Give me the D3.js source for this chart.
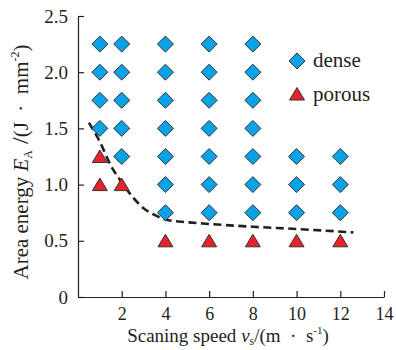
<!DOCTYPE html>
<html>
<head>
<meta charset="utf-8">
<script src="https://cdn.jsdelivr.net/npm/d3@7"></script>
<style>
  body { margin: 0; background: #fff; }
  text { font-family: "Liberation Serif", "DejaVu Serif", serif; fill: #231f20; }
</style>
</head>
<body>
<div id="chart"></div>
<script>
// dense samples (blue diamonds)
const denseSpeed  = [1,1,1,1, 2,2,2,2,2, 4,4,4,4,4,4,4, 6,6,6,6,6,6,6, 8,8,8,8,8,8,8, 10,10,10, 12,12,12];
const denseEnergy = [2.25,2.0,1.75,1.5, 2.25,2.0,1.75,1.5,1.25,
                     2.25,2.0,1.75,1.5,1.25,1.0,0.75,
                     2.25,2.0,1.75,1.5,1.25,1.0,0.75,
                     2.25,2.0,1.75,1.5,1.25,1.0,0.75,
                     1.25,1.0,0.75, 1.25,1.0,0.75];
// porous samples (red triangles)
const porousSpeed  = [1, 1, 2, 4, 6, 8, 10, 12];
const porousEnergy = [1.25, 1.0, 1.0, 0.5, 0.5, 0.5, 0.5, 0.5];
// boundary curve (dashed)
const boundSpeed  = [0.5, 1, 1.5, 2, 2.5, 3, 3.5, 4, 5, 6, 8, 10, 12.6];
const boundEnergy = [1.55, 1.38, 1.17, 1.02, 0.89, 0.79, 0.73, 0.69, 0.665, 0.65, 0.625, 0.605, 0.575];

const xTicks = [2, 4, 6, 8, 10, 12, 14];
const yTicks = [0, 0.5, 1.0, 1.5, 2.0, 2.5];

const margin = {top: 16, right: 12, bottom: 53, left: 78},
    width = 396 - margin.left - margin.right,
    height = 350 - margin.top - margin.bottom;

const svg = d3.select("#chart")
    .append("svg")
    .attr("width", 396)
    .attr("height", 350);

const g = svg.append("g")
    .attr("transform", `translate(${margin.left}, ${margin.top})`);

const x = d3.scaleLinear().domain([0, 14]).range([0, width]);
const y = d3.scaleLinear().domain([0, 2.5]).range([height, 0]);

// axes, ticks pointing inward
const xAxis = g.append("g")
    .attr("transform", `translate(0, ${height})`)
    .call(d3.axisBottom(x).tickValues(xTicks).tickSizeInner(-6).tickSizeOuter(0).tickPadding(10));
const yAxis = g.append("g")
    .call(d3.axisLeft(y).tickValues(yTicks).tickSizeInner(-6).tickSizeOuter(0).tickPadding(10)
        .tickFormat(d => d === 0 ? "0" : d3.format(".1f")(d)));

[xAxis, yAxis].forEach(a => {
    a.selectAll("path, line").attr("stroke", "#231f20").attr("stroke-width", 1.2);
    a.selectAll("text").attr("font-size", "19px").attr("fill", "#231f20");
});
xAxis.selectAll("text").attr("font-size", "18px");

// boundary line
const boundData = boundSpeed.map((s, i) => [s, boundEnergy[i]]);
g.append("path")
    .datum(boundData)
    .attr("fill", "none")
    .attr("stroke", "#231f20")
    .attr("stroke-width", 2.6)
    .attr("stroke-dasharray", "8,4.5")
    .attr("d", d3.line().x(d => x(d[0])).y(d => y(d[1])).curve(d3.curveMonotoneX));

const diamond = "M0,-8L8,0L0,8L-8,0Z";
const triangle = "M0,-6.5L7.5,6L-7.5,6Z";

g.selectAll(".dense")
    .data(denseSpeed)
    .enter().append("path")
    .attr("class", "dense")
    .attr("d", diamond)
    .attr("transform", (d, i) => `translate(${x(d)}, ${y(denseEnergy[i])})`)
    .attr("fill", "#0aa2e6")
    .attr("stroke", "#333")
    .attr("stroke-width", 1);

g.selectAll(".porous")
    .data(porousSpeed)
    .enter().append("path")
    .attr("class", "porous")
    .attr("d", triangle)
    .attr("transform", (d, i) => `translate(${x(d)}, ${y(porousEnergy[i])})`)
    .attr("fill", "#e8222a")
    .attr("stroke", "#333")
    .attr("stroke-width", 1);

// legend
const legend = svg.append("g").attr("transform", "translate(297, 61)");
legend.append("path").attr("d", diamond).attr("fill", "#0aa2e6").attr("stroke", "#333");
legend.append("text").attr("x", 16).attr("y", 6).attr("font-size", "21px").text("dense");
legend.append("path").attr("d", triangle).attr("transform", "translate(0, 33)")
    .attr("fill", "#e8222a").attr("stroke", "#333");
legend.append("text").attr("x", 16).attr("y", 40).attr("font-size", "21px").text("porous");

// x title
const xt = svg.append("text")
    .attr("x", 228).attr("y", 342)
    .attr("text-anchor", "middle")
    .attr("font-size", "19px");
xt.append("tspan").text("Scaning speed ");
xt.append("tspan").attr("font-style", "italic").text("v");
xt.append("tspan").attr("font-size", "12px").attr("dy", 3).text("s");
xt.append("tspan").attr("dy", -3).text("/(m\u2002·\u2002s");
xt.append("tspan").attr("font-size", "11px").attr("dy", -8).text("-1");
xt.append("tspan").attr("dy", 8).text(")");

// y title
const yt = svg.append("text")
    .attr("transform", "translate(28, 162) rotate(-90)")
    .attr("text-anchor", "middle")
    .attr("font-size", "21px");
yt.append("tspan").text("Area energy ");
yt.append("tspan").attr("font-style", "italic").text("E");
yt.append("tspan").attr("font-size", "12px").attr("font-style", "normal").attr("dy", 4).text("A");
yt.append("tspan").attr("dy", -4).attr("font-size", "24px").text(" /");
yt.append("tspan").text("(J\u2002·\u2002mm");
yt.append("tspan").attr("font-size", "12px").attr("dy", -9).text("-2");
yt.append("tspan").attr("dy", 9).text(")");
</script>
</body>
</html>
